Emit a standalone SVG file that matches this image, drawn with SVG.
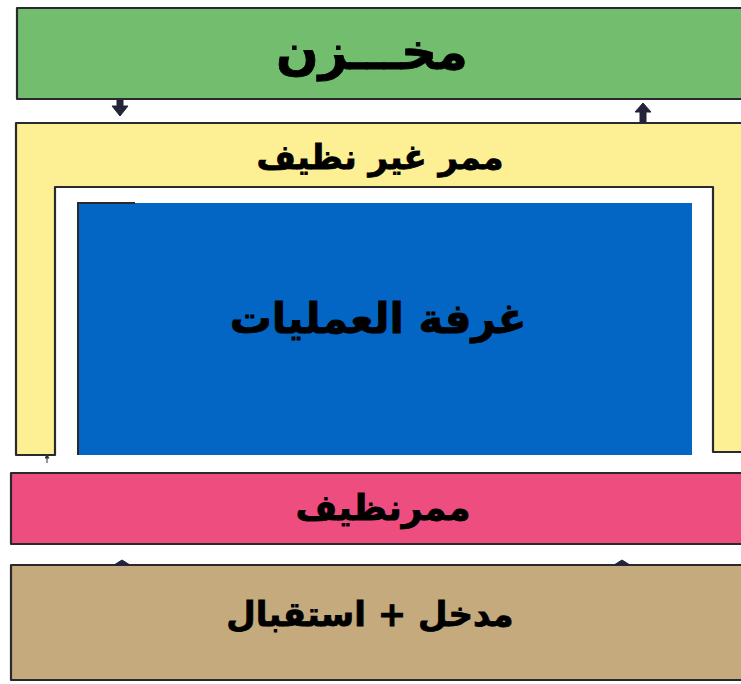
<svg xmlns="http://www.w3.org/2000/svg" width="741" height="684" viewBox="0 0 741 684">
<style>
.edge{stroke:#2a2a2e;stroke-width:2.2;stroke-linejoin:round}
.lbl{font-family:"DejaVu Sans","Noto Sans",sans-serif;font-weight:bold;fill:#000;stroke:#000;stroke-width:0.8;text-anchor:middle;dominant-baseline:central}
.arr{fill:#23233a;stroke:#23233a;stroke-width:1}
</style>
<defs>
<marker id="ah" viewBox="0 0 10 10" refX="5" refY="5" markerWidth="5" markerHeight="5" orient="auto" markerUnits="userSpaceOnUse">
<path d="M0,0 L10,5 L0,10 Z" fill="#333"/>
</marker>
</defs>
<rect width="741" height="684" fill="#ffffff"/>
<g id="store">
<rect x="17" y="8" width="730" height="91" fill="#72BE6E" class="edge"/>
<text class="lbl" x="372" y="52" font-size="50">مخـــزن</text>
</g>
<g id="dirty-corridor">
<path d="M16,123 H745 V452 H713 V187 H55 V455 H16 Z" fill="#FDEF94" class="edge"/>
<text class="lbl" x="380" y="157" font-size="34">ممر غير نظيف</text>
</g>
<g id="operating-room">
<rect x="78" y="203" width="614" height="252" fill="#0466C4"/>
<path d="M78,455 V203 H135" fill="none" stroke="#2a2a2e" stroke-width="2"/>
<text class="lbl" x="378" y="318" font-size="42">غرفة العمليات</text>
</g>
<g id="clean-corridor">
<rect x="11" y="473" width="735" height="71" fill="#EE4E7F" class="edge"/>
<text class="lbl" x="383" y="507" font-size="36">ممرنظيف</text>
</g>
<g id="entrance">
<rect x="11" y="565" width="735" height="115" fill="#C5AA7D" class="edge"/>
<text class="lbl" x="370" y="614" font-size="34">مدخل + استقبال</text>
</g>
<g id="connectors">
<path class="arr" d="M117,100 h6 v6 h5 l-8,10 l-8,-10 h5 Z"/>
<path class="arr" d="M640,122 v-10 h-5 l8,-9 l8,9 h-5 v10 Z"/>
<line x1="47" y1="463" x2="47" y2="456" stroke="#333" stroke-width="1" marker-end="url(#ah)"/>
<path class="arr" d="M114,565 l8,-5 l8,5 Z"/>
<path class="arr" d="M614,565 l8,-5 l8,5 Z"/>
</g>
</svg>
